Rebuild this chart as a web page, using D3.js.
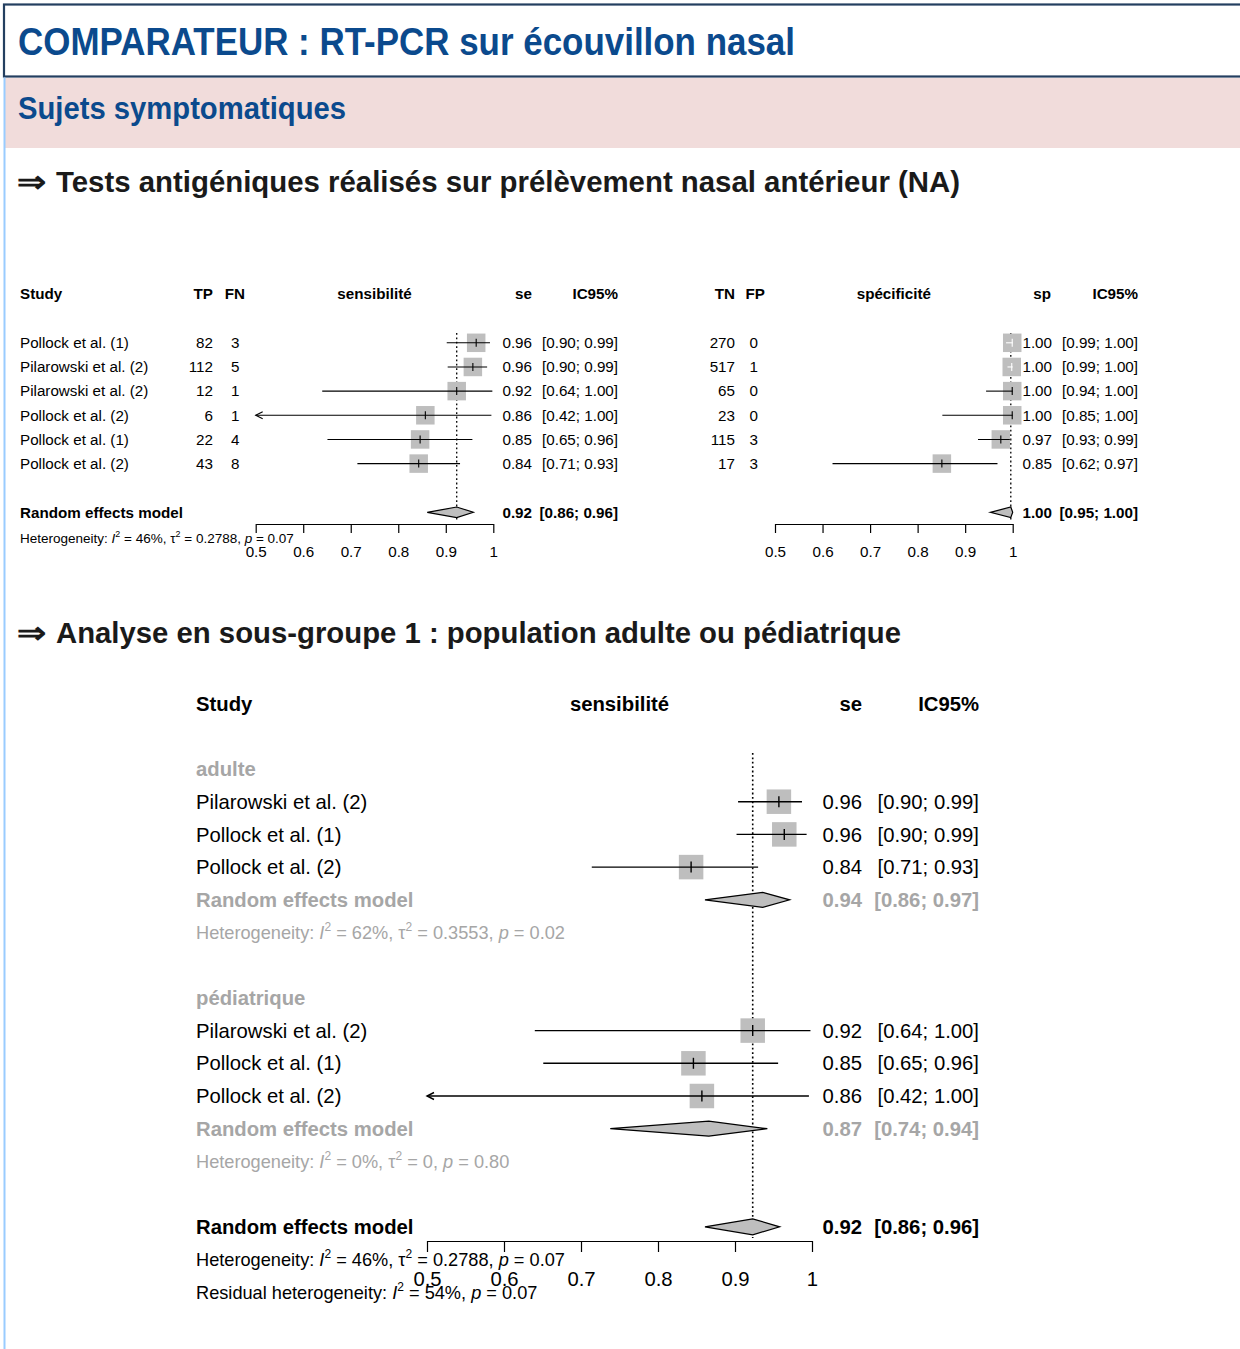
<!DOCTYPE html>
<html><head><meta charset="utf-8">
<script src="https://cdn.jsdelivr.net/npm/d3@7"></script>
<style>
body{margin:0;background:#fff}
svg{display:block}
text{font-family:"Liberation Sans",Arial,Helvetica,sans-serif}
</style>
</head><body>
<svg id="c" width="1240" height="1349"></svg>
<script>
// ---------------- DATA ----------------
const titleText = "COMPARATEUR : RT-PCR sur écouvillon nasal";
const subtitleText = "Sujets symptomatiques";
const heading1 = "Tests antigéniques réalisés sur prélèvement nasal antérieur (NA)";
const heading2 = "Analyse en sous-groupe 1 : population adulte ou pédiatrique";

const studies = ["Pollock et al. (1)", "Pilarowski et al. (2)", "Pilarowski et al. (2)", "Pollock et al. (2)", "Pollock et al. (1)", "Pollock et al. (2)"];
const tp = [82, 112, 12, 6, 22, 43];
const fn = [3, 5, 1, 1, 4, 8];
const seEst = [0.964, 0.957, 0.923, 0.857, 0.846, 0.843];
const seLow = [0.902, 0.904, 0.640, 0.421, 0.651, 0.714];
const seHigh = [0.993, 0.987, 0.998, 0.996, 0.956, 0.930];
const sePool = [0.923, 0.861, 0.958];

const tn = [270, 517, 65, 23, 115, 17];
const fp = [0, 1, 0, 0, 3, 3];
const spEst = [0.999, 0.998, 0.999, 0.999, 0.975, 0.851];
const spLow = [0.986, 0.989, 0.944, 0.852, 0.927, 0.621];
const spHigh = [1.000, 1.000, 1.000, 1.000, 0.994, 0.968];
const spPool = [0.996, 0.953, 1.000];

const hetMain = ["46%", "0.2788", "0.07"];

const groups = ["adulte", "pédiatrique"];
const adStudies = ["Pilarowski et al. (2)", "Pollock et al. (1)", "Pollock et al. (2)"];
const adEst = [0.957, 0.964, 0.843];
const adLow = [0.904, 0.902, 0.714];
const adHigh = [0.987, 0.993, 0.930];
const adPool = [0.936, 0.861, 0.971];
const adHet = ["62%", "0.3553", "0.02"];

const pedStudies = ["Pilarowski et al. (2)", "Pollock et al. (1)", "Pollock et al. (2)"];
const pedEst = [0.923, 0.846, 0.857];
const pedLow = [0.640, 0.651, 0.421];
const pedHigh = [0.998, 0.956, 0.996];
const pedPool = [0.866, 0.738, 0.942];
const pedHet = ["0%", "0", "0.80"];

const allPool = [0.923, 0.861, 0.958];
const residualHet = ["54%", "0.07"];

const tickVals = [0.5, 0.6, 0.7, 0.8, 0.9, 1];
const tickLabels = ["0.5", "0.6", "0.7", "0.8", "0.9", "1"];

// ---------------- HELPERS ----------------
const svg = d3.select("#c");
const f2 = d3.format(".2f");
const ciTxt = (l, h) => "[" + f2(l) + "; " + f2(h) + "]";
const GRAY = "#bebebe";
const LGRAY = "#a6a6a6";

function txt(g, x, y, s, size, opt = {}) {
  const t = g.append("text").attr("x", x).attr("y", y + 0.35 * size)
    .attr("font-size", size).attr("fill", opt.color || "#000").text(s);
  if (opt.bold) t.attr("font-weight", "bold");
  if (opt.anchor) t.attr("text-anchor", opt.anchor);
  return t;
}

function hetParts(v) {
  return [["Heterogeneity: ", "n"], ["I", "i"], ["2", "s"], [" = " + v[0] + ", τ", "n"], ["2", "s"],
          [" = " + v[1] + ", ", "n"], ["p", "i"], [" = " + v[2], "n"]];
}
function resParts(v) {
  return [["Residual heterogeneity: ", "n"], ["I", "i"], ["2", "s"], [" = " + v[0] + ", ", "n"], ["p", "i"], [" = " + v[1], "n"]];
}
function rich(g, x, y, size, color, parts) {
  const t = g.append("text").attr("x", x).attr("y", y + 0.35 * size).attr("font-size", size).attr("fill", color);
  let shift = 0;
  parts.forEach(([s, k]) => {
    const ts = t.append("tspan").text(s);
    if (k === "i") ts.attr("font-style", "italic");
    const target = k === "s" ? -0.42 * size : 0;
    if (target !== shift) { ts.attr("dy", target - shift); shift = target; }
    if (k === "s") ts.attr("font-size", size * 0.66);
  });
}

function studyRow(g, x, y, e, l, h, sq, tk, sw) {
  const xmin = x.domain()[0];
  const xl = x(Math.max(l, xmin)), xh = x(h), xe = x(e);
  g.append("rect").attr("x", xe - sq / 2).attr("y", y - sq / 2).attr("width", sq).attr("height", sq).attr("fill", GRAY);
  const col = (xh - xl) < sq ? "#fff" : "#000";
  g.append("line").attr("x1", xl).attr("x2", xh).attr("y1", y).attr("y2", y).attr("stroke", col).attr("stroke-width", sw);
  g.append("line").attr("x1", xe).attr("x2", xe).attr("y1", y - tk).attr("y2", y + tk).attr("stroke", col).attr("stroke-width", sw);
  if (l < xmin) {
    g.append("path").attr("d", `M${xl + 7},${y - 3.5}L${xl},${y}L${xl + 7},${y + 3.5}`)
      .attr("fill", "none").attr("stroke", "#000").attr("stroke-width", sw);
  }
}
function diamond(g, x, y, p, hh) {
  g.append("path").attr("d", `M${x(p[1])},${y}L${x(p[0])},${y - hh}L${x(p[2])},${y}L${x(p[0])},${y + hh}Z`)
    .attr("fill", GRAY).attr("stroke", "#000").attr("stroke-width", 1.2);
}
function axis(g, x, y, size, tsize, pad) {
  const a = g.append("g").attr("transform", `translate(0,${y})`)
    .call(d3.axisBottom(x).tickValues(tickVals).tickFormat((d, i) => tickLabels[i]).tickSize(tsize).tickSizeOuter(0).tickPadding(pad));
  a.selectAll("path,line").attr("stroke", "#000").attr("stroke-width", 1.2);
  a.selectAll("text").attr("font-size", size).attr("fill", "#000").attr("font-family", '"Liberation Sans",Arial,sans-serif');
}
function dotted(g, x, v, y0, y1, sw) {
  g.append("line").attr("x1", x(v)).attr("x2", x(v)).attr("y1", y0).attr("y2", y1)
    .attr("stroke", "#000").attr("stroke-width", sw).attr("stroke-dasharray", "1.8,2.6");
}

// ---------------- PAGE FRAME ----------------
svg.append("rect").attr("x", 5).attr("y", 78).attr("width", 1240).attr("height", 70).attr("fill", "#f1dcdb");
svg.append("rect").attr("x", 4).attr("y", 4.5).attr("width", 1250).attr("height", 72).attr("fill", "none")
  .attr("stroke", "#243f60").attr("stroke-width", 2.2);
svg.append("line").attr("x1", 4.5).attr("x2", 4.5).attr("y1", 77.5).attr("y2", 1349).attr("stroke", "#99ccff").attr("stroke-width", 2);

svg.append("text").attr("x", 18).attr("y", 55).attr("font-size", 38).attr("font-weight", "bold").attr("fill", "#0b4a8d")
  .attr("textLength", 777).attr("lengthAdjust", "spacingAndGlyphs").text(titleText);
svg.append("text").attr("x", 18).attr("y", 119).attr("font-size", 30.5).attr("font-weight", "bold").attr("fill", "#0b4a8d")
  .attr("textLength", 328).attr("lengthAdjust", "spacingAndGlyphs").text(subtitleText);

[[heading1, 192, 904], [heading2, 643, 845]].forEach(([s, y, w]) => {
  svg.append("text").attr("x", 17).attr("y", y).attr("font-size", 30).attr("font-weight", "bold").attr("fill", "#1a1a1a")
    .attr("font-family", '"DejaVu Sans",sans-serif').attr("textLength", 29).attr("lengthAdjust", "spacingAndGlyphs").text("⇒");
  svg.append("text").attr("x", 56).attr("y", y).attr("font-size", 29.5).attr("font-weight", "bold").attr("fill", "#1a1a1a")
    .attr("textLength", w).attr("lengthAdjust", "spacingAndGlyphs").text(s);
});

// ---------------- PLOT 1 : sensibilité / spécificité ----------------
const FS = 15.2, HS = 13.5;
const g1 = svg.append("g");
const x1 = d3.scaleLinear().domain([0.5, 1]).range([255.7, 493.3]);
const x2 = d3.scaleLinear().domain([0.5, 1]).range([775, 1012.7]);
const yr = d3.scaleLinear().domain([0, 5]).range([342.8, 463.6]);
const yHead = 294, yRE = 512.3, yHet = 538;

txt(g1, 20, yHead, "Study", FS, { bold: true });
txt(g1, 213, yHead, "TP", FS, { bold: true, anchor: "end" });
txt(g1, 245, yHead, "FN", FS, { bold: true, anchor: "end" });
txt(g1, (x1.range()[0] + x1.range()[1]) / 2, yHead, "sensibilité", FS, { bold: true, anchor: "middle" });
txt(g1, 532, yHead, "se", FS, { bold: true, anchor: "end" });
txt(g1, 618, yHead, "IC95%", FS, { bold: true, anchor: "end" });
txt(g1, 735, yHead, "TN", FS, { bold: true, anchor: "end" });
txt(g1, 765, yHead, "FP", FS, { bold: true, anchor: "end" });
txt(g1, (x2.range()[0] + x2.range()[1]) / 2, yHead, "spécificité", FS, { bold: true, anchor: "middle" });
txt(g1, 1051, yHead, "sp", FS, { bold: true, anchor: "end" });
txt(g1, 1138, yHead, "IC95%", FS, { bold: true, anchor: "end" });

dotted(g1, x1, sePool[0], 333, 522, 1.3);
dotted(g1, x2, spPool[0], 333, 522, 1.3);

studies.forEach((s, i) => {
  const y = yr(i);
  txt(g1, 20, y, s, FS);
  txt(g1, 213, y, String(tp[i]), FS, { anchor: "end" });
  txt(g1, 239.5, y, String(fn[i]), FS, { anchor: "end" });
  studyRow(g1, x1, y, seEst[i], seLow[i], seHigh[i], 18.5, 4, 1.1);
  txt(g1, 532, y, f2(seEst[i]), FS, { anchor: "end" });
  txt(g1, 618, y, ciTxt(seLow[i], seHigh[i]), FS, { anchor: "end" });
  txt(g1, 735, y, String(tn[i]), FS, { anchor: "end" });
  txt(g1, 758, y, String(fp[i]), FS, { anchor: "end" });
  studyRow(g1, x2, y, spEst[i], spLow[i], spHigh[i], 18.5, 4, 1.1);
  txt(g1, 1052, y, f2(spEst[i]), FS, { anchor: "end" });
  txt(g1, 1138, y, ciTxt(spLow[i], spHigh[i]), FS, { anchor: "end" });
});

txt(g1, 20, yRE, "Random effects model", FS, { bold: true });
diamond(g1, x1, yRE, sePool, 5.3);
txt(g1, 532, yRE, f2(sePool[0]), FS, { bold: true, anchor: "end" });
txt(g1, 618, yRE, ciTxt(sePool[1], sePool[2]), FS, { bold: true, anchor: "end" });
diamond(g1, x2, yRE, spPool, 5.3);
txt(g1, 1052, yRE, f2(spPool[0]), FS, { bold: true, anchor: "end" });
txt(g1, 1138, yRE, ciTxt(spPool[1], spPool[2]), FS, { bold: true, anchor: "end" });
rich(g1, 20, yHet, HS, "#000", hetParts(hetMain));

axis(g1, x1, 524, FS, 9, 13);
axis(g1, x2, 524, FS, 9, 13);

// ---------------- PLOT 2 : sous-groupes ----------------
const FB = 20.3, HB = 18.2;
const g2 = svg.append("g");
const x3 = d3.scaleLinear().domain([0.5, 1]).range([427, 812]);
const ys = k => 769 + k * 32.7;
const yH2 = 704;

txt(g2, 196, yH2, "Study", FB, { bold: true });
txt(g2, (x3.range()[0] + x3.range()[1]) / 2, yH2, "sensibilité", FB, { bold: true, anchor: "middle" });
txt(g2, 862, yH2, "se", FB, { bold: true, anchor: "end" });
txt(g2, 979, yH2, "IC95%", FB, { bold: true, anchor: "end" });

dotted(g2, x3, allPool[0], 753, 1238, 1.6);

const subData = [
  [adStudies, adEst, adLow, adHigh, adPool, adHet, 0],
  [pedStudies, pedEst, pedLow, pedHigh, pedPool, pedHet, 7]
];
subData.forEach(([st, es, lo, hi, pool, het, k0], gi) => {
  txt(g2, 196, ys(k0), groups[gi], FB, { bold: true, color: LGRAY });
  st.forEach((s, i) => {
    const y = ys(k0 + 1 + i);
    txt(g2, 196, y, s, FB);
    studyRow(g2, x3, y, es[i], lo[i], hi[i], 24.5, 5.5, 1.4);
    txt(g2, 862, y, f2(es[i]), FB, { anchor: "end" });
    txt(g2, 979, y, ciTxt(lo[i], hi[i]), FB, { anchor: "end" });
  });
  const yR = ys(k0 + 4);
  txt(g2, 196, yR, "Random effects model", FB, { bold: true, color: LGRAY });
  diamond(g2, x3, yR, pool, 7.5);
  txt(g2, 862, yR, f2(pool[0]), FB, { bold: true, anchor: "end", color: LGRAY });
  txt(g2, 979, yR, ciTxt(pool[1], pool[2]), FB, { bold: true, anchor: "end", color: LGRAY });
  rich(g2, 196, ys(k0 + 5), HB, LGRAY, hetParts(het));
});

const yAll = ys(14);
txt(g2, 196, yAll, "Random effects model", FB, { bold: true });
diamond(g2, x3, yAll, allPool, 8);
txt(g2, 862, yAll, f2(allPool[0]), FB, { bold: true, anchor: "end" });
txt(g2, 979, yAll, ciTxt(allPool[1], allPool[2]), FB, { bold: true, anchor: "end" });

axis(g2, x3, 1241, FB, 11, 20);
rich(g2, 196, ys(15), HB, "#000", hetParts(hetMain));
rich(g2, 196, ys(16), HB, "#000", resParts(residualHet));
</script>
</body></html>
